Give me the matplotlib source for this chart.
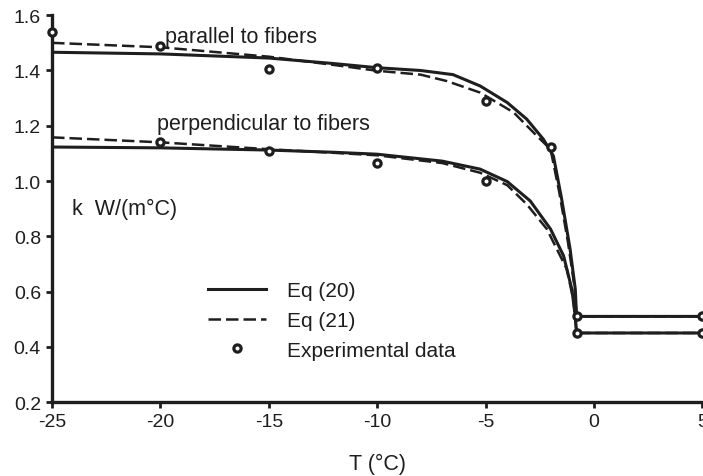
import matplotlib.pyplot as plt

plt.rcParams['font.family'] = ['Liberation Sans', 'DejaVu Sans']

# Eq (20), parallel to fibers
t_par_20 = [-25, -20, -15, -12, -10, -8, -6.5, -5.25, -4.0, -3.1, -2.33, -1.87, -1.5, -1.1, -0.86, -0.8, 5]
k_par_20 = [1.466, 1.46, 1.445, 1.425, 1.41, 1.40, 1.385, 1.344, 1.284, 1.224, 1.151, 1.091, 0.94, 0.754, 0.609, 0.51, 0.51]

# Eq (21), parallel to fibers
t_par_21 = [-25, -20, -15, -12, -10, -8, -6.8, -5.25, -3.7, -2.63, -2.0, -1.6, -1.2, -0.9, -0.8, 5]
k_par_21 = [1.50, 1.484, 1.45, 1.42, 1.399, 1.385, 1.362, 1.32, 1.248, 1.163, 1.115, 0.96, 0.78, 0.62, 0.51, 0.51]

# Eq (20), perpendicular to fibers
t_per_20 = [-25, -20, -15, -12, -10, -7, -5.25, -4.0, -2.94, -2.0, -1.4, -1.02, -0.86, -0.8, 5]
k_per_20 = [1.123, 1.12, 1.112, 1.104, 1.097, 1.072, 1.043, 0.998, 0.928, 0.826, 0.729, 0.609, 0.512, 0.45, 0.45]

# Eq (21), perpendicular to fibers
t_per_21 = [-25, -20, -15, -12, -10, -7, -5.25, -4.0, -3.1, -2.17, -1.25, -0.95, -0.8, 5]
k_per_21 = [1.158, 1.14, 1.115, 1.102, 1.093, 1.065, 1.03, 0.985, 0.916, 0.826, 0.681, 0.57, 0.45, 0.45]

# experimental data
t_exp_par = [-25, -20, -15, -10, -5, -2, -0.8, 5]
k_exp_par = [1.54, 1.49, 1.405, 1.408, 1.289, 1.124, 0.51, 0.51]
t_exp_per = [-20, -15, -10, -5, -0.8, 5]
k_exp_per = [1.14, 1.108, 1.065, 1.0, 0.45, 0.45]

ink = '#1e1e1e'

fig = plt.figure(figsize=(7.03, 4.77), dpi=100)
ax = fig.add_axes([0.074, 0.155, 0.925, 0.811])

ax.plot(t_par_20, k_par_20, color=ink, lw=2.2, label='Eq (20)')
ax.plot(t_par_21, k_par_21, color=ink, lw=1.8, dashes=(5, 2), label='Eq (21)')
ax.plot(t_per_20, k_per_20, color=ink, lw=2.2)
ax.plot(t_per_21, k_per_21, color=ink, lw=1.8, dashes=(5, 2))
ax.plot(t_exp_par, k_exp_par, 'o', ms=5.2, mfc='white', mec=ink, mew=2.3,
        clip_on=False, zorder=5, label='Experimental data')
ax.plot(t_exp_per, k_exp_per, 'o', ms=5.2, mfc='white', mec=ink, mew=2.3,
        clip_on=False, zorder=5)

ax.set_xlim(-25, 5)
ax.set_ylim(0.2, 1.6)
ax.set_xticks([-25, -20, -15, -10, -5, 0, 5])
ax.set_xticklabels(['-25', '-20', '-15', '-10', '-5', '0', '5'])
ax.set_yticks([0.2, 0.4, 0.6, 0.8, 1.0, 1.2, 1.4, 1.6])
ax.set_yticklabels(['0.2', '0.4', '0.6', '0.8', '1.0', '1.2', '1.4', '1.6'])
for s in ['top', 'right']:
    ax.spines[s].set_visible(False)
for s in ['left', 'bottom']:
    ax.spines[s].set_linewidth(2.4)
    ax.spines[s].set_color(ink)
ax.tick_params(direction='out', length=4, width=2, colors=ink, labelsize=14)
ax.tick_params(axis='x', pad=4)
ax.tick_params(axis='y', pad=4)

ax.text(-19.79, 1.502, 'parallel to fibers', fontsize=15.5, color=ink, va='baseline')
ax.text(-20.15, 1.188, 'perpendicular to fibers', fontsize=15.5, color=ink, va='baseline')
ax.text(-24.08, 0.880, 'k  W/(m°C)', fontsize=15.5, color=ink, va='baseline')
ax.set_xlabel('T (°C)', fontsize=15.5, color=ink, labelpad=16)

ax.legend(loc='upper left', bbox_to_anchor=(208 / 703, 1 - 282 / 477),
          bbox_transform=fig.transFigure, frameon=False, fontsize=15,
          borderpad=0, borderaxespad=0, handlelength=2.8, handletextpad=1.0,
          labelspacing=0.52, labelcolor=ink)

fig.savefig('out.png', dpi=100)
